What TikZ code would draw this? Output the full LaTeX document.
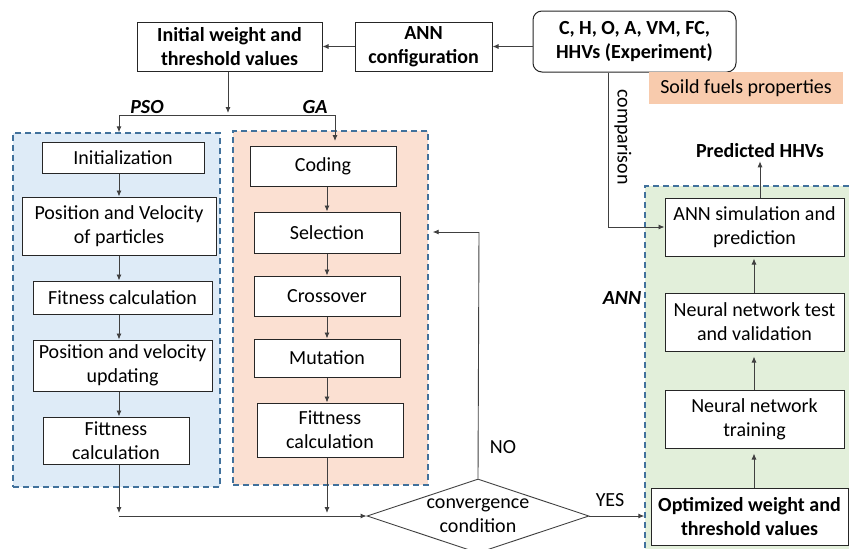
\documentclass[tikz,border=0pt]{standalone}
\usepackage{fontspec}
\setmainfont{Carlito}
\usetikzlibrary{arrows.meta,shapes.geometric,calc}
\definecolor{psofill}{HTML}{DEEBF7}
\definecolor{gafill}{HTML}{FBE0D2}
\definecolor{annfill}{HTML}{E2EFDA}
\definecolor{soildfill}{HTML}{F8CBAD}
\definecolor{dashblue}{HTML}{41719C}
\definecolor{linegray}{HTML}{404040}
\tikzset{
  box/.style={draw=black!85, line width=1pt, fill=white, align=center, inner sep=0pt},
  group/.style={draw=dashblue, line width=1.4pt, dash pattern=on 6pt off 4pt, inner sep=0pt},
  arr/.style={draw=linegray, line width=0.9pt, -{Latex[length=6pt,width=5pt]}},
  ln/.style={draw=linegray, line width=0.9pt},
  lbl/.style={font=\fontsize{20}{24}\selectfont\bfseries\itshape, inner sep=0pt},
  plain/.style={inner sep=0pt, align=center}
}
\begin{document}
\begin{tikzpicture}[x=1pt,y=-1pt,font=\fontsize{20}{24}\selectfont]
\useasboundingbox (0,0) rectangle (849,549);
% group containers
\node[group, fill=psofill, minimum width=207pt, minimum height=354pt] (psobox) at (116.5,310) {};
\node[group, fill=gafill, minimum width=195pt, minimum height=354pt] (gabox) at (330.5,308) {};
\node[group, fill=annfill, minimum width=215pt, minimum height=374pt] (annbox) at (752.5,373) {};
% top row
\node[box, font=\fontsize{20}{24}\selectfont\bfseries, minimum width=185pt, minimum height=49pt] (init) at (229.5,46.5) {Initial weight and\\threshold values};
\node[box, font=\fontsize{20}{24}\selectfont\bfseries, minimum width=137pt, minimum height=49pt] (anncfg) at (423.5,46.5) {ANN\\configuration};
\node[box, rounded corners=9pt, font=\fontsize{20}{24}\selectfont\bfseries, minimum width=203pt, minimum height=61pt] (exp) at (634.5,41.5) {C, H, O, A, VM, FC,\\HHVs (Experiment)};
\node[plain, fill=soildfill, minimum width=194pt, minimum height=32pt] (soild) at (746,88) {Soild fuels properties};
\node[plain, font=\fontsize{20}{24}\selectfont\bfseries] (pred) at (760,151) {Predicted HHVs};
% labels
\node[lbl] (psolbl) at (147,107) {PSO};
\node[lbl] (galbl) at (315,107) {GA};
\node[lbl] (annlbl) at (622,298) {ANN};
\node[plain] (nolbl) at (503,447) {NO};
\node[plain] (yeslbl) at (610,500) {YES};
\node[plain, rotate=-90] (cmplbl) at (623,137) {comparison};
% PSO column
\node[box, minimum width=162pt, minimum height=31pt] (p1) at (123,157.5) {Initialization};
\node[box, minimum width=194pt, minimum height=58pt] (p2) at (119,226) {Position and Velocity\\of particles};
\node[box, minimum width=179pt, minimum height=33pt] (p3) at (122.5,297.5) {Fitness calculation};
\node[box, minimum width=179pt, minimum height=51pt] (p4) at (122.5,365.5) {Position and velocity\\updating};
\node[box, minimum width=146pt, minimum height=47pt] (p5) at (116,440.5) {Fittness\\calculation};
% GA column
\node[box, minimum width=146pt, minimum height=40pt] (g1) at (323,166) {Coding};
\node[box, minimum width=146pt, minimum height=41pt] (g2) at (327,232.5) {Selection};
\node[box, minimum width=146pt, minimum height=40pt] (g3) at (327,296) {Crossover};
\node[box, minimum width=146pt, minimum height=38pt] (g4) at (327,358) {Mutation};
\node[box, minimum width=146pt, minimum height=54pt] (g5) at (330,430) {Fittness\\calculation};
% ANN column
\node[box, minimum width=179pt, minimum height=58pt] (a1) at (754.5,227) {ANN simulation and\\prediction};
\node[box, minimum width=179pt, minimum height=58pt] (a2) at (754.5,322) {Neural network test\\and validation};
\node[box, minimum width=179pt, minimum height=58pt] (a3) at (754.5,419) {Neural network\\training};
\node[box, font=\fontsize{20}{24}\selectfont\bfseries, minimum width=197pt, minimum height=57pt] (opt) at (749.5,516.5) {Optimized weight and\\threshold values};
% decision
\node[draw=linegray, line width=0.9pt, diamond, aspect=3, minimum width=222pt, minimum height=74pt, inner sep=0pt, align=center, fill=white] (conv) at (478,516) {};
\node[plain] (convtxt) at (478,516) {convergence\\condition};
% helper coordinates
\coordinate (xp) at (119,0);
\coordinate (xg) at (327,0);
\coordinate (xa) at (754,0);
\coordinate (splitL) at (119,115);
\coordinate (splitR) at (335,115);
\coordinate (splitIn) at (228,113);
\coordinate (gaIn) at (335,141);
\coordinate (merge) at (119,516);
\coordinate (noTurn) at (479,232);
\coordinate (cmpTurn) at (608,227);
% connectors top
\draw[arr] (exp.west |- anncfg.east) -- (anncfg.east);
\draw[arr] (anncfg.west) -- (init.east);
\draw[arr] (init.south -| splitIn) -- (splitIn);
\draw[ln] (splitL) -- (splitR);
\draw[arr] (splitL) -- (splitL |- psobox.north);
\draw[arr] (splitR) -- (gaIn);
% PSO chain
\draw[arr] (p1.south -| xp) -- (p2.north -| xp);
\draw[arr] (p2.south -| xp) -- (p3.north -| xp);
\draw[arr] (p3.south -| xp) -- (p4.north -| xp);
\draw[arr] (p4.south -| xp) -- (p5.north -| xp);
% GA chain
\draw[arr] (g1.south -| xg) -- (g2.north -| xg);
\draw[arr] (g2.south -| xg) -- (g3.north -| xg);
\draw[arr] (g3.south -| xg) -- (g4.north -| xg);
\draw[arr] (g4.south -| xg) -- (g5.north -| xg);
% to decision
\draw[arr, shorten >=3pt] (p5.south -| xp) -- (merge);
\draw[arr, shorten >=3pt] (g5.south -| xg) -- (merge -| xg);
\draw[arr] (merge) -- (conv.west);
\draw[ln] (conv.north) -- (noTurn);
\draw[arr, shorten >=4pt] (noTurn) -- (noTurn -| gabox.east);
\draw[arr] (conv.east) -- (conv.east -| annbox.west);
% ANN chain
\draw[arr, shorten >=5pt] (opt.north -| xa) -- (a3.south -| xa);
\draw[arr, shorten >=5pt] (a3.north -| xa) -- (a2.south -| xa);
\draw[arr, shorten >=2pt] (a2.north -| xa) -- (a1.south -| xa);
\draw[arr, shorten >=3pt] (a1.north -| pred) -- (pred.south);
% comparison
\draw[ln] (exp.south -| cmpTurn) -- (cmpTurn);
\draw[arr] (cmpTurn) -- (a1.west);
\end{tikzpicture}
\end{document}
